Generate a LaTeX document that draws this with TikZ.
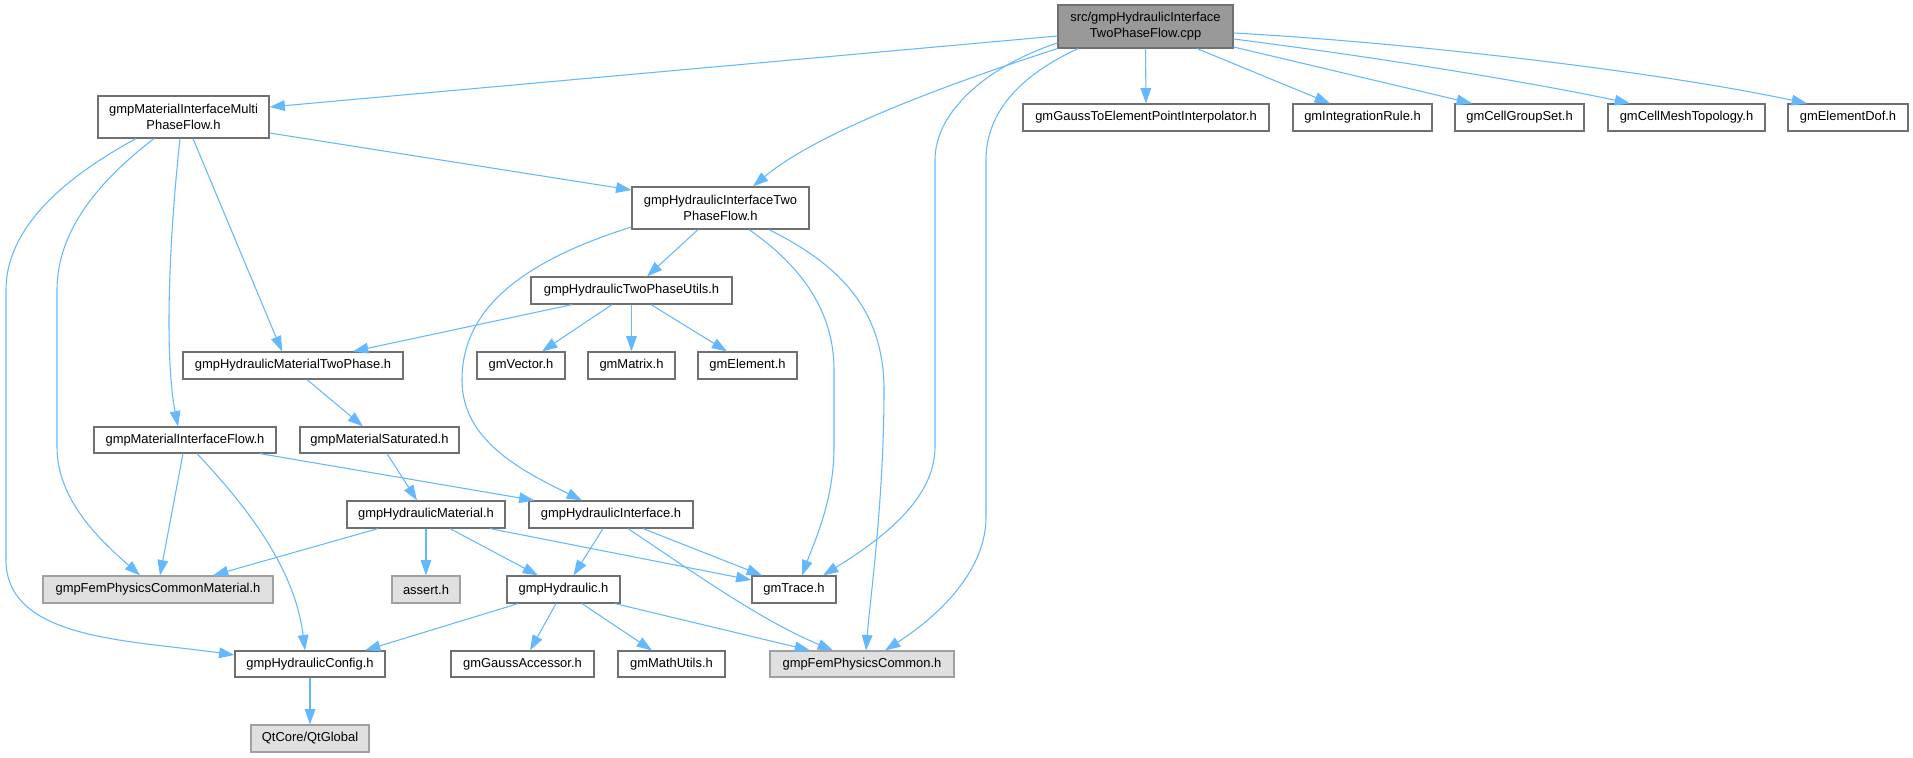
\documentclass[tikz,border=0pt]{standalone}
\usepackage{fontspec}
\setmainfont{Liberation Sans}
\usetikzlibrary{arrows.meta,calc}
\definecolor{edgecol}{HTML}{63B8FF}
\definecolor{bordcol}{HTML}{707070}
\definecolor{gbord}{HTML}{A0A0A0}
\definecolor{gfill}{HTML}{E0E0E0}
\definecolor{rootfill}{HTML}{999999}
\newcommand\mkbox[7]{\node[#6,minimum width={(#4-#2)*0.75pt},minimum height={(#5-#3)*0.75pt}] (#1) at ({(#2+#4)/2},{(#3+#5)/2}) {#7};}
\tikzset{
  basebox/.style={line width=0.9pt, inner sep=0pt, align=center, font=\fontsize{9.7}{12}\selectfont, text=black},
  wbox/.style={basebox, draw=bordcol, fill=white},
  gbox/.style={basebox, draw=gbord, fill=gfill},
  rbox/.style={basebox, draw=bordcol, fill=rootfill},
  edge/.style={draw=edgecol, line width=0.8pt, -{Triangle[length=11.5pt,width=8pt,fill=edgecol]}}
}
\begin{document}
\begin{tikzpicture}[x=0.75pt,y=-0.75pt]
\useasboundingbox (0,0) rectangle (1913,757);
% nodes
\mkbox{root}{1058}{5}{1233}{48}{rbox}{src/gmpHydraulicInterface\\TwoPhaseFlow.cpp}
\mkbox{multi}{98}{96}{269}{138}{wbox}{gmpMaterialInterfaceMulti\\PhaseFlow.h}
\mkbox{hitwo}{632}{187}{809}{229}{wbox}{gmpHydraulicInterfaceTwo\\PhaseFlow.h}
\mkbox{gauss}{1023}{104}{1269}{131}{wbox}{gmGaussToElementPointInterpolator.h}
\mkbox{intrule}{1293}{104}{1432}{131}{wbox}{gmIntegrationRule.h}
\mkbox{cellgroup}{1455}{104}{1584}{131}{wbox}{gmCellGroupSet.h}
\mkbox{cellmesh}{1608}{104}{1765}{131}{wbox}{gmCellMeshTopology.h}
\mkbox{eldof}{1788}{104}{1908}{131}{wbox}{gmElementDof.h}
\mkbox{utils}{531}{277}{732}{304}{wbox}{gmpHydraulicTwoPhaseUtils.h}
\mkbox{twophase}{183}{352}{403}{379}{wbox}{gmpHydraulicMaterialTwoPhase.h}
\mkbox{vector}{477}{352}{565}{379}{wbox}{gmVector.h}
\mkbox{matrix}{588}{352}{675}{379}{wbox}{gmMatrix.h}
\mkbox{element}{698}{352}{797}{379}{wbox}{gmElement.h}
\mkbox{mif}{94}{427}{276}{453}{wbox}{gmpMaterialInterfaceFlow.h}
\mkbox{sat}{300}{427}{459}{453}{wbox}{gmpMaterialSaturated.h}
\mkbox{hmat}{347}{501}{505}{528}{wbox}{gmpHydraulicMaterial.h}
\mkbox{hif}{529}{501}{693}{528}{wbox}{gmpHydraulicInterface.h}
\mkbox{cmat}{43}{576}{273}{603}{gbox}{gmpFemPhysicsCommonMaterial.h}
\mkbox{assert}{392}{576}{460}{603}{gbox}{assert.h}
\mkbox{hyd}{507}{576}{620}{603}{wbox}{gmpHydraulic.h}
\mkbox{trace}{752}{576}{836}{603}{wbox}{gmTrace.h}
\mkbox{config}{235}{651}{385}{677}{wbox}{gmpHydraulicConfig.h}
\mkbox{gaussacc}{451}{651}{594}{677}{wbox}{gmGaussAccessor.h}
\mkbox{math}{618}{651}{725}{677}{wbox}{gmMathUtils.h}
\mkbox{common}{770}{651}{954}{677}{gbox}{gmpFemPhysicsCommon.h}
\mkbox{qt}{251}{725}{369}{752}{gbox}{QtCore/QtGlobal}
% edges from root
\draw[edge] ($(root.west)+(0,9.5)$) -- ($(multi.east)+(0,-10)$);
\draw[edge] (root.south west) .. controls (960,80) and (820,130) .. ($(hitwo.north)+(32.5,0)$);
\draw[edge] ($(root.west)+(0,16.5)$) .. controls (990,65) and (935,110) .. (935,160) -- (935,447) .. controls (935,500) and (880,540) .. ($(trace.north)+(29,0)$);
\draw[edge] ($(root.south)+(-67.5,0)$) .. controls (1010,80) and (986,120) .. (986,160) -- (986,517) .. controls (986,570) and (940,615) .. ($(common.north)+(23,0)$);
\draw[edge] (root.south) -- (gauss.north);
\draw[edge] ($(root.south)+(51.5,0)$) -- ($(intrule.north)+(-32.5,0)$);
\draw[edge] ($(root.east)+(0,20.5)$) -- ($(cellgroup.north)+(-47.5,0)$);
\draw[edge] ($(root.east)+(0,12.5)$) .. controls (1360,55) and (1520,80) .. ($(cellmesh.north)+(-56.5,0)$);
\draw[edge] ($(root.east)+(0,6.5)$) .. controls (1400,42) and (1650,70) .. ($(eldof.north)+(-41,0)$);
% edges from multi
\draw[edge] ($(multi.east)+(0,16)$) -- ($(hitwo.west)+(0,-18)$);
\draw[edge] ($(multi.south)+(9.5,0)$) -- ($(twophase.north)+(-11,0)$);
\draw[edge] ($(multi.south)+(-3.5,0)$) .. controls (168,250) and (165,360) .. ($(mif.north)+(-7,0)$);
\draw[edge] ($(multi.south)+(-29.5,0)$) .. controls (100,180) and (57,230) .. (57,290) -- (57,447) .. controls (57,500) and (100,540) .. ($(cmat.north)+(-18,0)$);
\draw[edge] ($(multi.south)+(-47.5,0)$) .. controls (60,180) and (6,230) .. (6,290) -- (6,560) .. controls (6,640) and (130,640) .. ($(config.west)+(0,-9)$);
% edges from hitwo
\draw[edge] ($(hitwo.south)+(-22.5,0)$) -- ($(utils.north)+(15.5,0)$);
\draw[edge] ($(hitwo.west)+(0,19)$) .. controls (520,262) and (462,310) .. (462,380) .. controls (462,440) and (520,470) .. ($(hif.north)+(-29,0)$);
\draw[edge] ($(hitwo.south)+(28.5,0)$) .. controls (800,265) and (834,310) .. (834,370) -- (834,447) .. controls (834,500) and (815,540) .. ($(trace.north)+(8,0)$);
\draw[edge] ($(hitwo.south)+(48.5,0)$) .. controls (840,265) and (884,310) .. (884,390) .. controls (884,500) and (870,600) .. ($(common.north)+(4,0)$);
% edges from utils
\draw[edge] ($(utils.south)+(-59.5,0)$) -- ($(twophase.north)+(60,0)$);
\draw[edge] ($(utils.south)+(-19.5,0)$) -- ($(vector.north)+(21,0)$);
\draw[edge] (utils.south) -- (matrix.north);
\draw[edge] ($(utils.south)+(19.5,0)$) -- ($(element.north)+(-20.5,0)$);
% others
\draw[edge] ($(twophase.south)+(14,0)$) -- ($(sat.north)+(-16.5,0)$);
\draw[edge] ($(sat.south)+(7.5,0)$) -- ($(hmat.north)+(-9,0)$);
\draw[edge] ($(mif.south)+(-2,0)$) -- ($(cmat.north)+(2,0)$);
\draw[edge] ($(mif.south)+(12,0)$) .. controls (250,510) and (295,570) .. ($(config.north)+(-5,0)$);
\draw[edge] ($(mif.south)+(75,0)$) -- ($(hif.north west)+(6,0)$);
\draw[edge] ($(hmat.south)+(-48,0)$) -- ($(cmat.north)+(55,0)$);
\draw[edge] (hmat.south) -- (assert.north);
\draw[edge] ($(hmat.south)+(24,0)$) -- ($(hyd.north)+(-25.5,0)$);
\draw[edge] ($(hmat.south)+(64,0)$) -- ($(trace.west)+(0,-9.5)$);
\draw[edge] ($(hif.south)+(-8,0)$) -- ($(hyd.north)+(10,0)$);
\draw[edge] ($(hif.south)+(32,0)$) -- ($(trace.north)+(-32,0)$);
\draw[edge] ($(hif.south)+(17,0)$) .. controls (690,570) and (760,620) .. ($(common.north)+(-29,0)$);
\draw[edge] ($(hyd.south)+(-45.5,0)$) -- ($(config.north)+(55,0)$);
\draw[edge] ($(hyd.south)+(-7.5,0)$) -- ($(gaussacc.north)+(7.5,0)$);
\draw[edge] ($(hyd.south)+(18.5,0)$) -- ($(math.north)+(-19.5,0)$);
\draw[edge] ($(hyd.south)+(51.5,0)$) -- ($(common.north)+(-52,0)$);
\draw[edge] (config.south) -- (qt.north);
\end{tikzpicture}
\end{document}
